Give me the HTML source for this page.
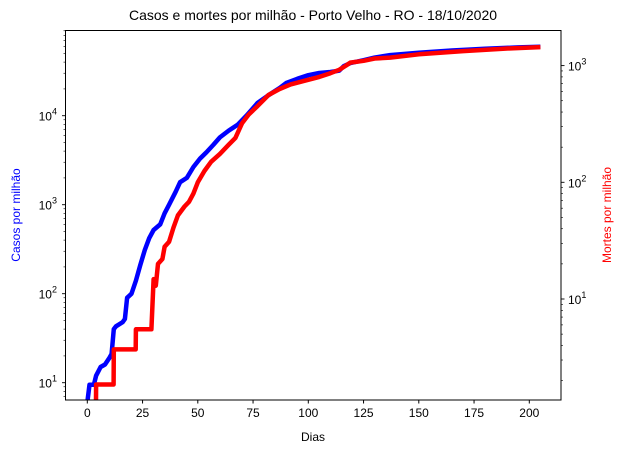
<!DOCTYPE html>
<html><head><meta charset="utf-8"><style>
body{margin:0;background:#fff;}
svg text{font-family:"Liberation Sans","DejaVu Sans",sans-serif;}
</style></head><body>
<svg id="chart" width="625" height="453" viewBox="0 0 625 453" xmlns="http://www.w3.org/2000/svg">
<defs><clipPath id="clip"><rect x="65.5" y="30.5" width="495.5" height="369.5"/></clipPath></defs>
<text x="313" y="20" font-size="14" text-anchor="middle">Casos e mortes por milhão - Porto Velho - RO - 18/10/2020</text>
<text x="313" y="441" font-size="12" text-anchor="middle">Dias</text>
<text transform="translate(20,215) rotate(-90)" font-size="12" fill="#0000ff" text-anchor="middle">Casos por milhão</text>
<text transform="translate(611,215) rotate(-90)" font-size="12" fill="#ff0000" text-anchor="middle">Mortes por milhão</text>
<g id="axes"></g>
<g id="series" clip-path="url(#clip)"></g>
<rect x="65.5" y="30.5" width="495.5" height="369.5" fill="none" stroke="#000" stroke-width="1"/>
</svg>
<script>
const caseDays=[0,1,3,4,6,8,10,11,12,13,16,17,18,20,22,24,26,28,30,33,35,37,40,42,45,48,51,54,57,60,64,68,72,77,82,87,90,95,100,105,110,114,116,119,125,130,137,150,165,180,195,205];
const cases=[6,9.5,9.5,12,15,16,19,21,40,43,48,52,90,100,140,210,310,420,520,600,800,1000,1400,1790,2000,2650,3300,3900,4700,5700,6800,7900,10000,13900,17000,20500,23300,26000,28500,30200,31000,32000,36000,39000,42000,45000,48000,51000,54000,56500,58500,59600];
const deathDays=[3,3.9,4,11.9,12,21.9,22,29,30,31,32,34,35,37,39,41,44,46,48,50,53,56,60,64,67,70,73,77,82,87,92,98,105,110,114,117,119,125,130,137,150,170,190,205];
const deaths=[1.0,1.0,1.85,1.85,3.7,3.7,5.5,5.5,14.8,13,20,22,28,31,41,52,62,68,80,100,125,150,175,210,240,320,380,450,560,630,690,740,800,860,920,1000,1060,1100,1150,1170,1250,1330,1400,1440];
const xTicks=[0,25,50,75,100,125,150,175,200];
const leftTickExp=[1,2,3,4];
const rightTickExp=[1,2,3];

const NS="http://www.w3.org/2000/svg";
const X=d=>87.3+d*2.21;
const YL=v=>382.7-89*(Math.log10(v)-1);
const YR=v=>299-116.7*(Math.log10(v)-1);
const axes=document.getElementById('axes');
const series=document.getElementById('series');
function mk(tag,attrs,parent){const e=document.createElementNS(NS,tag);for(const k in attrs)e.setAttribute(k,attrs[k]);parent.appendChild(e);return e;}

xTicks.forEach(t=>{
  const l=mk('line',{x1:X(t),x2:X(t),y1:400,y2:403.5,stroke:'#000'},axes);
  
  
  const tx=mk('text',{x:X(t),y:417,'font-size':12,'text-anchor':'middle'},axes);
  tx.textContent=t;
  
  
});
function logTicks(yfn,lo,hi,side,exps){
  for(let e=Math.floor(lo);e<=Math.ceil(hi);e++){
    for(let m=1;m<10;m++){
      const v=m*Math.pow(10,e);const lv=Math.log10(v);
      if(lv<lo||lv>hi)continue;
      const y=yfn(v);const len=m===1?3.5:2;
      const x0=side==='l'?65.5:561;const x1=side==='l'?x0-len:x0+len;
      const l=mk('line',{x1:x0,x2:x1,y1:y,y2:y,stroke:'#000','stroke-width':m===1?0.9:0.6},axes);
      
      
    }
  }
  exps.forEach(e=>{
    const y=yfn(Math.pow(10,e));
    const tx=mk('text',{x:side==='l'?57:568,y:y+5,'font-size':12,'text-anchor':side==='l'?'end':'start'},axes);
    
    
    const a=mk('tspan',{},tx);a.textContent='10';
    const b=mk('tspan',{dy:-6,'font-size':9},tx);b.textContent=e;
  });
}
logTicks(YL,0.806,4.955,'l',leftTickExp);
logTicks(YR,0.134,3.30,'r',rightTickExp);

const pc=caseDays.map((d,i)=>X(d).toFixed(1)+','+YL(cases[i]).toFixed(1)).join(' ');
const p1=mk('polyline',{points:pc,fill:'none',stroke:'#0000ff','stroke-width':4.5,'stroke-linejoin':'round'},series);


const pd=deathDays.map((d,i)=>X(d).toFixed(1)+','+YR(deaths[i]).toFixed(1)).join(' ');
const p2=mk('polyline',{points:pd,fill:'none',stroke:'#ff0000','stroke-width':4.5,'stroke-linejoin':'round'},series);


</script>
</body></html>
